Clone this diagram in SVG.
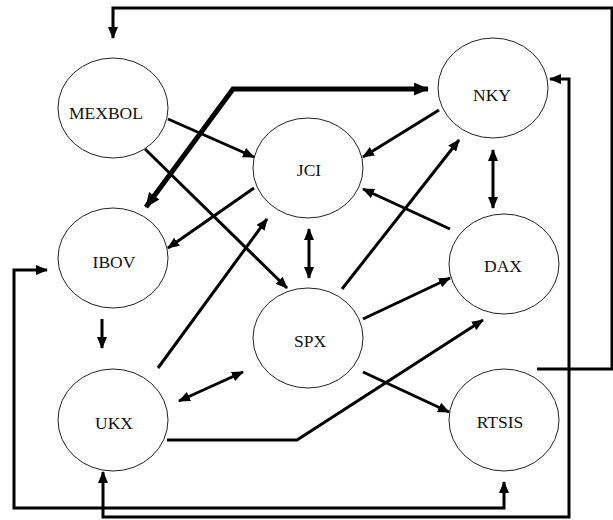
<svg xmlns="http://www.w3.org/2000/svg" width="613" height="520" viewBox="0 0 613 520">
<defs>
<style>
.node ellipse{fill:#fff;stroke:#222;stroke-width:1}
.node text{font-family:"Liberation Serif","Times New Roman",serif;font-size:17.5px;fill:#111;text-anchor:middle}
.c{fill:none;stroke:#000;stroke-width:3;stroke-linejoin:miter}
.t{stroke-width:5}
</style>
<marker id="a" viewBox="0 0 12 10" refX="11" refY="5" markerWidth="12" markerHeight="10" markerUnits="userSpaceOnUse" orient="auto-start-reverse">
<path d="M0,0 L12,5 L0,10 z" fill="#000"/>
</marker>
<marker id="b" viewBox="0 0 14 12" refX="13" refY="6" markerWidth="15" markerHeight="13" markerUnits="userSpaceOnUse" orient="auto-start-reverse">
<path d="M0,0 L14,6 L0,12 z" fill="#000"/>
</marker>
</defs>
<rect width="613" height="520" fill="#fff"/>
<g id="MEXBOL" class="node"><ellipse cx="113" cy="108" rx="55" ry="50"/><text x="106" y="119">MEXBOL</text></g>
<g id="JCI" class="node"><ellipse cx="308" cy="168" rx="55" ry="50"/><text x="309" y="176">JCI</text></g>
<g id="NKY" class="node"><ellipse cx="493" cy="88" rx="55" ry="50"/><text x="492" y="101">NKY</text></g>
<g id="IBOV" class="node"><ellipse cx="113" cy="258" rx="55" ry="50"/><text x="114" y="268">IBOV</text></g>
<g id="DAX" class="node"><ellipse cx="504" cy="264" rx="55" ry="50"/><text x="503" y="272">DAX</text></g>
<g id="SPX" class="node"><ellipse cx="308" cy="338" rx="55" ry="50"/><text x="310" y="347">SPX</text></g>
<g id="UKX" class="node"><ellipse cx="113" cy="420" rx="55" ry="51"/><text x="114" y="429">UKX</text></g>
<g id="RTSIS" class="node"><ellipse cx="504" cy="420" rx="55" ry="51"/><text x="500" y="428">RTSIS</text></g>
<g id="connectors">
<path class="c" d="M168,119 L254,157" marker-end="url(#a)"/>
<path class="c" d="M145,149 L287,288" marker-end="url(#a)"/>
<path class="c" d="M254,188 L168,248" marker-end="url(#a)"/>
<path class="c" d="M158,368 L267,219" marker-end="url(#a)"/>
<path class="c" d="M309,229 L309,278" marker-start="url(#a)" marker-end="url(#a)"/>
<path class="c" d="M439,110 L363,157" marker-end="url(#a)"/>
<path class="c" d="M450,229 L363,189" marker-end="url(#a)"/>
<path class="c" d="M493,150 L493,208" marker-start="url(#a)" marker-end="url(#a)"/>
<path class="c" d="M342,289 L459,140" marker-end="url(#a)"/>
<path class="c" d="M363,319 L450,278" marker-end="url(#a)"/>
<path class="c" d="M363,372 L449,412" marker-end="url(#a)"/>
<path class="c" d="M102,319 L102,348" marker-end="url(#a)"/>
<path class="c" d="M179,401 L243,372" marker-start="url(#a)" marker-end="url(#a)"/>
<path class="c" d="M167,440 L297,440 L483,320" marker-end="url(#a)"/>
<path class="c t" d="M146,207 L233,89 L428,89" marker-start="url(#b)" marker-end="url(#b)"/>
<path class="c" d="M537,369 L612,369 L612,8 L113,8 L113,38" marker-end="url(#a)"/>
<path class="c" d="M103,472 L103,517 L569,517 L569,79 L550,79" marker-start="url(#a)" marker-end="url(#a)"/>
<path class="c" d="M47,270 L14,270 L14,508 L504,508 L504,482" marker-start="url(#a)" marker-end="url(#a)"/>
</g>
</svg>
